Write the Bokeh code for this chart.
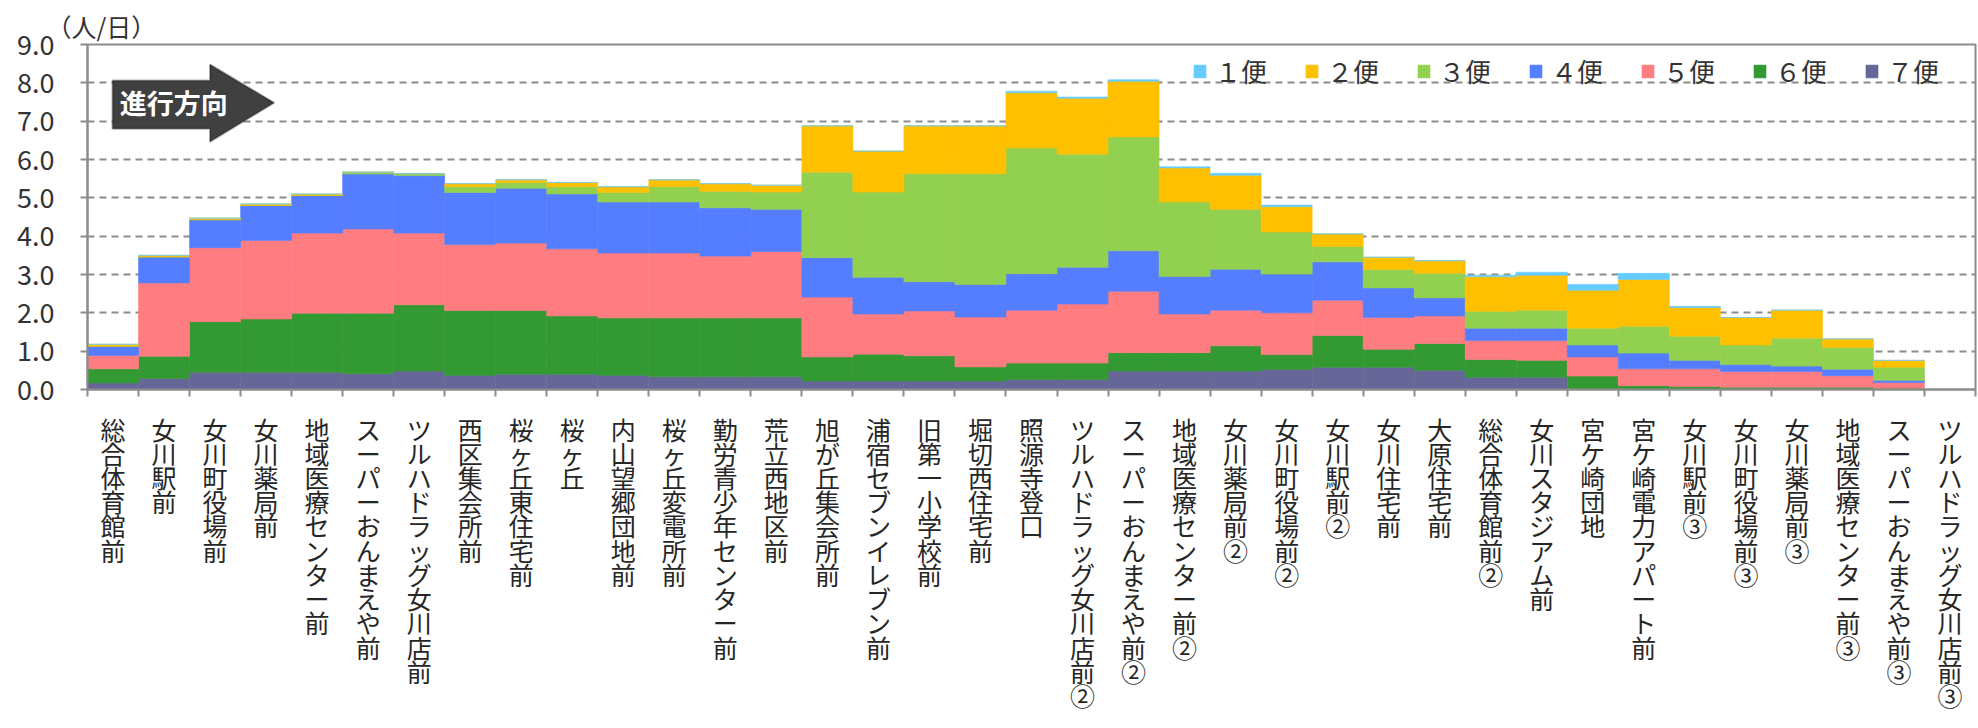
from bokeh.plotting import figure
from bokeh.models import (ColumnDataSource, Label, FixedTicker, Legend,
                          LegendItem, Range1d, PolyAnnotation)
from bokeh.embed import file_html
from bokeh.resources import INLINE

# ---------------- data ----------------
stops = ["総合体育館前", "女川駅前", "女川町役場前", "女川薬局前", "地域医療センター前",
         "スーパーおんまえや前", "ツルハドラッグ女川店前", "西区集会所前", "桜ヶ丘東住宅前", "桜ヶ丘",
         "内山望郷団地前", "桜ヶ丘変電所前", "勤労青少年センター前", "荒立西地区前", "旭が丘集会所前",
         "浦宿セブンイレブン前", "旧第一小学校前", "堀切西住宅前", "照源寺登口", "ツルハドラッグ女川店前②",
         "スーパーおんまえや前②", "地域医療センター前②", "女川薬局前②", "女川町役場前②", "女川駅前②",
         "女川住宅前", "大原住宅前", "総合体育館前②", "女川スタジアム前", "宮ケ崎団地",
         "宮ケ崎電力アパート前", "女川駅前③", "女川町役場前③", "女川薬局前③", "地域医療センター前③",
         "スーパーおんまえや前③", "ツルハドラッグ女川店前③"]

trip_names = ["１便", "２便", "３便", "４便", "５便", "６便", "７便"]

trip1 = [0, 0, 0, 0, 0, 0, 0, 0, 0, 0, 0, 0, 0, 0, 0, 0, 0, 0,
         0.04, 0.03, 0.04, 0.03, 0.05, 0.04, 0, 0, 0, 0.04, 0.08, 0.15,
         0.16, 0.03, 0, 0, 0, 0, 0]
trip2 = [0.05, 0.04, 0.04, 0.04, 0.04, 0, 0, 0.08, 0.07, 0.11,
         0.15, 0.18, 0.20, 0.18, 1.21, 1.07, 1.25, 1.25, 1.44, 1.46,
         1.45, 0.89, 0.89, 0.66, 0.33, 0.32, 0.33, 0.90, 0.91, 0.99,
         1.22, 0.75, 0.72, 0.73, 0.22, 0.18, 0]
trip3 = [0, 0, 0, 0, 0, 0.05, 0.05, 0.15, 0.15, 0.19,
         0.25, 0.40, 0.43, 0.45, 2.23, 2.22, 2.82, 2.89, 3.28, 2.95,
         2.97, 1.94, 1.56, 1.10, 0.40, 0.48, 0.64, 0.44, 0.47, 0.44,
         0.70, 0.63, 0.51, 0.73, 0.57, 0.34, 0]
trip4 = [0.24, 0.68, 0.73, 0.91, 0.98, 1.43, 1.50, 1.36, 1.43, 1.43,
         1.33, 1.33, 1.26, 1.10, 1.03, 0.96, 0.76, 0.85, 0.95, 0.96,
         1.06, 0.98, 1.07, 1.01, 1.00, 0.77, 0.47, 0.32, 0.32, 0.31,
         0.41, 0.22, 0.18, 0.14, 0.17, 0.06, 0]
trip5 = [0.35, 1.91, 1.93, 2.05, 2.09, 2.20, 1.87, 1.72, 1.76, 1.75,
         1.69, 1.69, 1.61, 1.73, 1.56, 1.05, 1.17, 1.30, 1.38, 1.54,
         1.60, 1.01, 0.93, 1.09, 0.92, 0.83, 0.72, 0.50, 0.52, 0.50,
         0.44, 0.46, 0.41, 0.41, 0.30, 0.15, 0]
trip6 = [0.37, 0.58, 1.32, 1.39, 1.54, 1.58, 1.73, 1.69, 1.66, 1.52,
         1.50, 1.54, 1.54, 1.54, 0.63, 0.70, 0.66, 0.37, 0.43, 0.43,
         0.48, 0.48, 0.66, 0.39, 0.83, 0.47, 0.70, 0.46, 0.44, 0.35,
         0.10, 0.08, 0.06, 0.06, 0.06, 0.03, 0]
trip7 = [0.17, 0.29, 0.45, 0.45, 0.45, 0.41, 0.48, 0.37, 0.40, 0.40,
         0.37, 0.33, 0.33, 0.33, 0.22, 0.22, 0.22, 0.22, 0.26, 0.26,
         0.48, 0.48, 0.48, 0.52, 0.58, 0.58, 0.50, 0.32, 0.32, 0,
         0, 0, 0, 0, 0, 0, 0]

trip_colors = ["#66CCFF", "#FFC000", "#92D050", "#547EFF", "#FF7C80", "#339933", "#666699"]

y_ticks = [0, 1, 2, 3, 4, 5, 6, 7, 8, 9]
y_unit = "（人/日）"
direction_text = "進行方向"

FONT = "Noto Sans CJK JP"
GRAY = "#8C8C8C"

# ---------------- figure ----------------
n = len(stops)
p = figure(width=1978, height=728, x_range=Range1d(0, n), y_range=Range1d(0, 9),
           output_backend="svg", toolbar_location=None,
           min_border_left=87, min_border_right=3, min_border_top=44, min_border_bottom=339)
p.background_fill_color = "white"
p.border_fill_color = "white"
p.outline_line_color = GRAY
p.outline_line_width = 2

# unit text as the (left-aligned) title
p.title.text = y_unit
p.title.align = "left"
p.title.offset = -41
p.title.standoff = 2
p.title.text_font = FONT
p.title.text_font_size = "25px"
p.title.text_font_style = "normal"
p.title.text_color = "#333333"

src = ColumnDataSource(dict(
    x=[i + 0.5 for i in range(n)],
    t1=trip1, t2=trip2, t3=trip3, t4=trip4, t5=trip5, t6=trip6, t7=trip7,
))
stack_keys = ["t7", "t6", "t5", "t4", "t3", "t2", "t1"]
stack_cols = [trip_colors[6], trip_colors[5], trip_colors[4], trip_colors[3],
              trip_colors[2], trip_colors[1], trip_colors[0]]
rends = p.vbar_stack(stack_keys, x="x", width=1.0, source=src,
                     fill_color=stack_cols, line_color=stack_cols, line_width=0.6)
rend_by_trip = list(reversed(rends))  # index 0 -> 1便

# x axis: labels at category centres (written top-to-bottom), ticks at boundaries
p.xaxis.ticker = FixedTicker(ticks=[i + 0.5 for i in range(n)],
                             minor_ticks=list(range(0, n + 1)))
p.xaxis.major_label_overrides = {i + 0.5: "\n".join(stops[i]) for i in range(n)}
p.xaxis.major_label_orientation = "horizontal"
p.xaxis.major_label_text_font = FONT
p.xaxis.major_label_text_font_size = "25px"
p.xaxis.major_label_text_line_height = 0.673
p.xaxis.major_label_text_color = "#262626"
p.xaxis.major_label_standoff = 14
p.xaxis.axis_line_color = GRAY
p.xaxis.axis_line_width = 2
p.xaxis.major_tick_line_color = None
p.xaxis.major_tick_out = 0
p.xaxis.major_tick_in = 0
p.xaxis.minor_tick_line_color = GRAY
p.xaxis.minor_tick_line_width = 2
p.xaxis.minor_tick_out = 7
p.xaxis.minor_tick_in = 0

p.yaxis.ticker = FixedTicker(ticks=y_ticks)
p.yaxis.major_label_overrides = {t: f"{t:.1f}" for t in y_ticks}
p.yaxis.axis_line_color = GRAY
p.yaxis.axis_line_width = 2
p.yaxis.major_tick_line_color = GRAY
p.yaxis.major_tick_line_width = 2
p.yaxis.major_tick_out = 7
p.yaxis.major_tick_in = 0
p.yaxis.minor_tick_line_color = None
p.yaxis.major_label_standoff = 26
p.yaxis.major_label_text_font = FONT
p.yaxis.major_label_text_font_size = "27px"
p.yaxis.major_label_text_color = "#333333"

p.xgrid.grid_line_color = None
p.ygrid.ticker = FixedTicker(ticks=y_ticks)
p.ygrid.grid_line_color = GRAY
p.ygrid.grid_line_width = 2
p.ygrid.grid_line_dash = "7 5"

# legend
legend = Legend(items=[LegendItem(label=trip_names[i], renderers=[rend_by_trip[i]]) for i in range(7)],
                orientation="horizontal", location=(1105, 300),
                glyph_width=15, glyph_height=16, label_standoff=8, spacing=37,
                padding=0, margin=0, border_line_color=None, background_fill_alpha=0,
                label_text_font=FONT, label_text_font_size="26px", label_text_color="#333333")
p.add_layout(legend)

# direction arrow
p.add_layout(PolyAnnotation(xs=[0.49, 2.40, 2.40, 3.66, 2.40, 2.40, 0.49],
                            ys=[8.06, 8.06, 8.48, 7.48, 6.46, 6.80, 6.80],
                            fill_color="#404040", fill_alpha=1.0,
                            line_color="black", line_width=2))
p.add_layout(Label(x=0.63, y=7.48, text=direction_text, text_align="left", text_baseline="middle",
                   text_font=FONT, text_font_size="27px", text_font_style="bold", text_color="white"))

open("out.html", "w").write(file_html(p, INLINE))
